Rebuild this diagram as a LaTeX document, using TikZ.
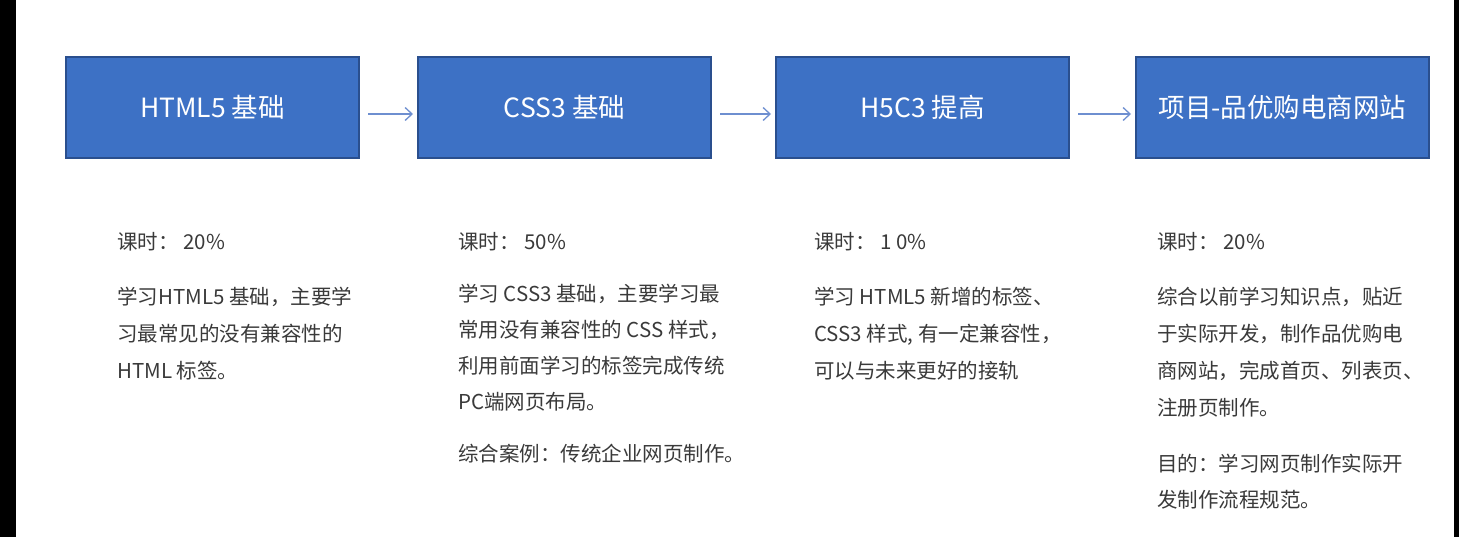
\documentclass[tikz,border=0pt]{standalone}
\usepackage{fontspec}
\setmainfont{Noto Sans CJK SC}
\usetikzlibrary{arrows.meta}
\definecolor{stagefill}{HTML}{3D71C5}
\definecolor{stageline}{HTML}{2A4F8E}
\definecolor{flowline}{HTML}{6E8FD0}
\definecolor{bodytext}{HTML}{3A3A3A}
\begin{document}
\begin{tikzpicture}[x=1pt,y=-1pt,
  stage/.style={draw=stageline, fill=stagefill, line width=1.4pt,
    minimum width=293pt, minimum height=101pt, inner sep=0pt, outer sep=0pt,
    text=white, font=\fontsize{26.5}{30}\selectfont},
  flow/.style={draw=flowline, line width=1.3pt,
    -{Straight Barb[length=7pt,width=13pt,line width=1.3pt]},
    shorten <=9pt, shorten >=5pt},
  hours/.style={anchor=base west, inner sep=0pt, text=bodytext,
    font=\fontsize{20.5}{37}\selectfont},
  note/.style={anchor=base west, inner sep=0pt, text=bodytext, align=left,
    font=\fontsize{20.5}{37}\selectfont},
  notetight/.style={note, font=\fontsize{20.5}{36}\selectfont}]
% canvas and dark side bands
\useasboundingbox (0,0) rectangle (1459,537);
\fill[white] (0,0) rectangle (1459,537);
\fill[black] (0,0) rectangle (16,537);
\fill[black] (1454,0) rectangle (1459,537);

% stage boxes
\node[stage] (b1) at (212.5,107.5) {HTML5 基础};
\node[stage] (b2) at (564.5,107.5) {CSS3 基础};
\node[stage] (b3) at (922.5,107.5) {H5C3 提高};
\node[stage] (b4) at (1282.5,107.5) {项目-品优购电商网站};

% flow arrows
\draw[flow] ([yshift=-6.5pt]b1.east) -- ([yshift=-6.5pt]b2.west);
\draw[flow] ([yshift=-6.5pt]b2.east) -- ([yshift=-6.5pt]b3.west);
\draw[flow] ([yshift=-6.5pt]b3.east) -- ([yshift=-6.5pt]b4.west);

% multi-line notes are placed by the baseline of their last line
% column 1
\node[hours] (t1) at (117,249.5) {课时： 20\%};
\node[note] (p1) at (117,378.5) {学习HTML5 基础，主要学\\习最常见的没有兼容性的\\HTML 标签。};

% column 2
\node[hours] (t2) at (458,249.5) {课时： 50\%};
\node[notetight] (p2) at (458,409.5) {学习 CSS3 基础，主要学习最\\常用没有兼容性的 CSS 样式，\\利用前面学习的标签完成传统\\PC端网页布局。};
\node[note] (q2) at (458,461.5) {综合案例：传统企业网页制作。};

% column 3
\node[hours] (t3) at (814,249.5) {课时： 1 0\%};
\node[note] (p3) at (814,378.5) {学习 HTML5 新增的标签、\\CSS3 样式, 有一定兼容性，\\可以与未来更好的接轨};

% column 4
\node[hours] (t4) at (1157,249.5) {课时： 20\%};
\node[note] (p4) at (1157,415.5) {综合以前学习知识点，贴近\\于实际开发，制作品优购电\\商网站，完成首页、列表页、\\注册页制作。};
\node[notetight] (q4) at (1157,507.5) {目的：学习网页制作实际开\\发制作流程规范。};
\end{tikzpicture}
\end{document}
